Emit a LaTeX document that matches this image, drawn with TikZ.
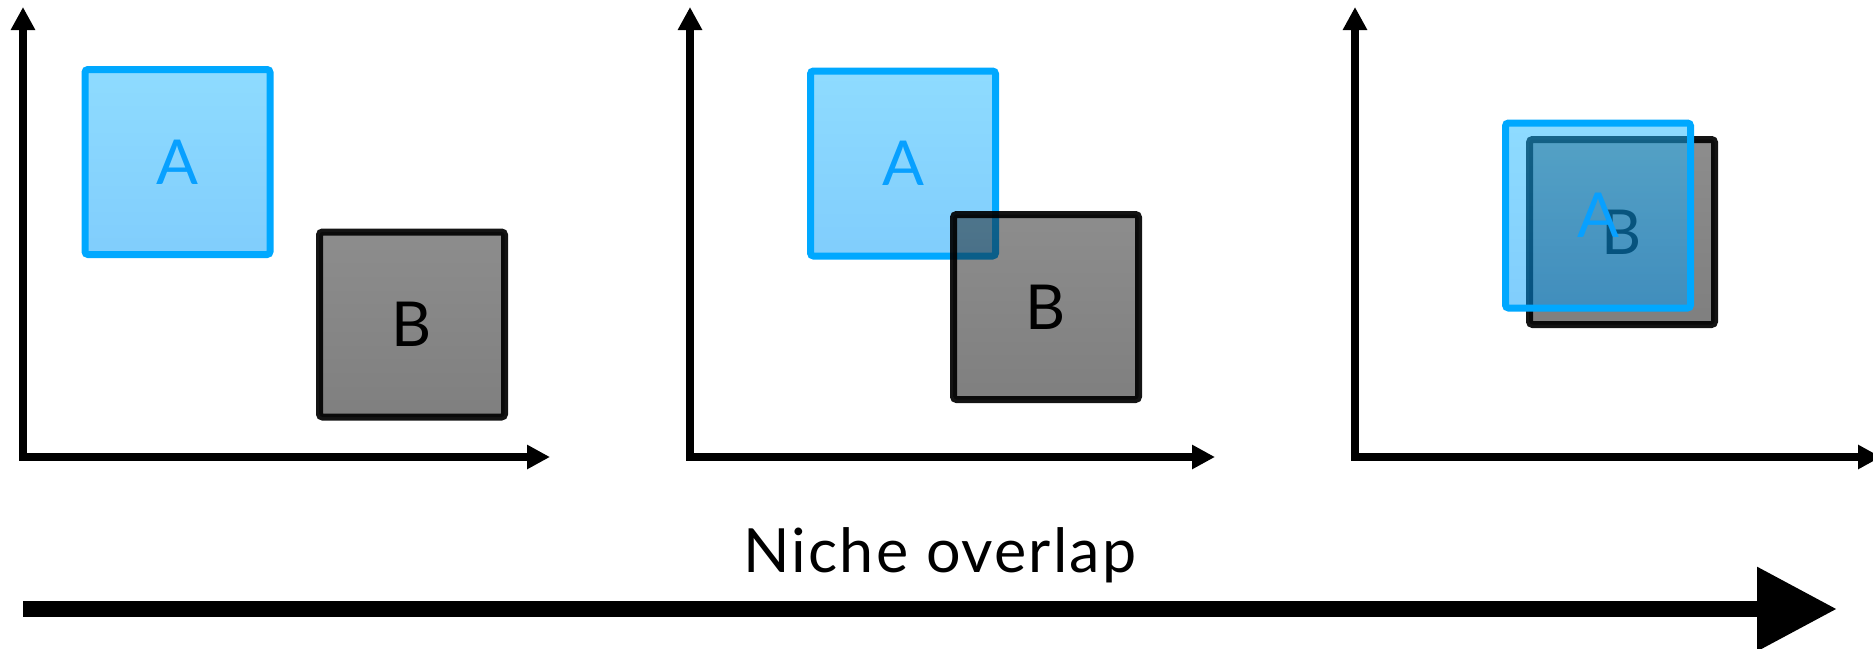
\documentclass[tikz,border=0pt]{standalone}
\usepackage{fontspec}
\setmainfont{Lato}
\newfontfamily\spacedfont[LetterSpace=3.5]{Lato}
\usetikzlibrary{arrows.meta}

\definecolor{nicheblue}{RGB}{0,168,255}
\definecolor{labelblue}{RGB}{8,160,255}
\definecolor{afilltop}{RGB}{30,184,255}
\definecolor{afillbot}{RGB}{2,156,250}
\definecolor{bfilltop}{RGB}{27,27,27}

\begin{document}
\begin{tikzpicture}[x=1pt,y=-1pt,
  axis/.style={line width=7.5pt, line join=miter,
    {Triangle[length=23pt,width=23pt]}-{Triangle[length=23pt,width=23pt]}},
  nichebox/.style={rectangle, rounded corners=3pt, line width=7pt,
    minimum width=185pt, minimum height=185pt, inner sep=0pt,
    fill opacity=0.5, text opacity=1,
    font=\fontsize{62}{62}\selectfont},
  speciesA/.style={nichebox, draw=nicheblue, draw opacity=1,
    top color=afilltop, bottom color=afillbot, text=labelblue},
  speciesB/.style={nichebox, draw=black, draw opacity=0.92,
    top color=bfilltop, bottom color=black, text=black},
  trend/.style={line width=16pt, -{Triangle[length=80pt,width=80pt]}},
]
\useasboundingbox (0,0) rectangle (1873,648);
\clip (0,0) rectangle (1873,648);

% --- panel 1: separate niches
\coordinate (ytipA) at (23,7);
\coordinate (cornA) at (23,457);
\coordinate (xtipA) at (550,457);
\draw[axis] (ytipA) -- (cornA) -- (xtipA);
\node[speciesA] (a1) at (177.5,162) {A};
\node[speciesB] (b1) at (412,324.5) {B};

% --- panel 2: partial overlap
\coordinate (ytipB) at (690,7);
\coordinate (cornB) at (690,457);
\coordinate (xtipB) at (1215,457);
\draw[axis] (ytipB) -- (cornB) -- (xtipB);
\node[speciesA] (a2) at (903,163.5) {A};
\node[speciesB] (b2) at (1046,307) {B};

% --- panel 3: near-complete overlap
\coordinate (ytipC) at (1355,7);
\coordinate (cornC) at (1355,457);
\coordinate (xtipC) at (1881,457);
\draw[axis] (ytipC) -- (cornC) -- (xtipC);
\node[speciesB] (b3) at (1622,232) {B};
\node[speciesA] (a3) at (1598,215.5) {A};

% --- overall trend
\node[anchor=base, font=\spacedfont\fontsize{61}{61}\selectfont] (title) at (940,572) {Niche overlap};
\coordinate (trendstart) at (23,609);
\coordinate (trendend) at (1837,609);
\draw[trend] (trendstart) -- (trendend);
\end{tikzpicture}
\end{document}
